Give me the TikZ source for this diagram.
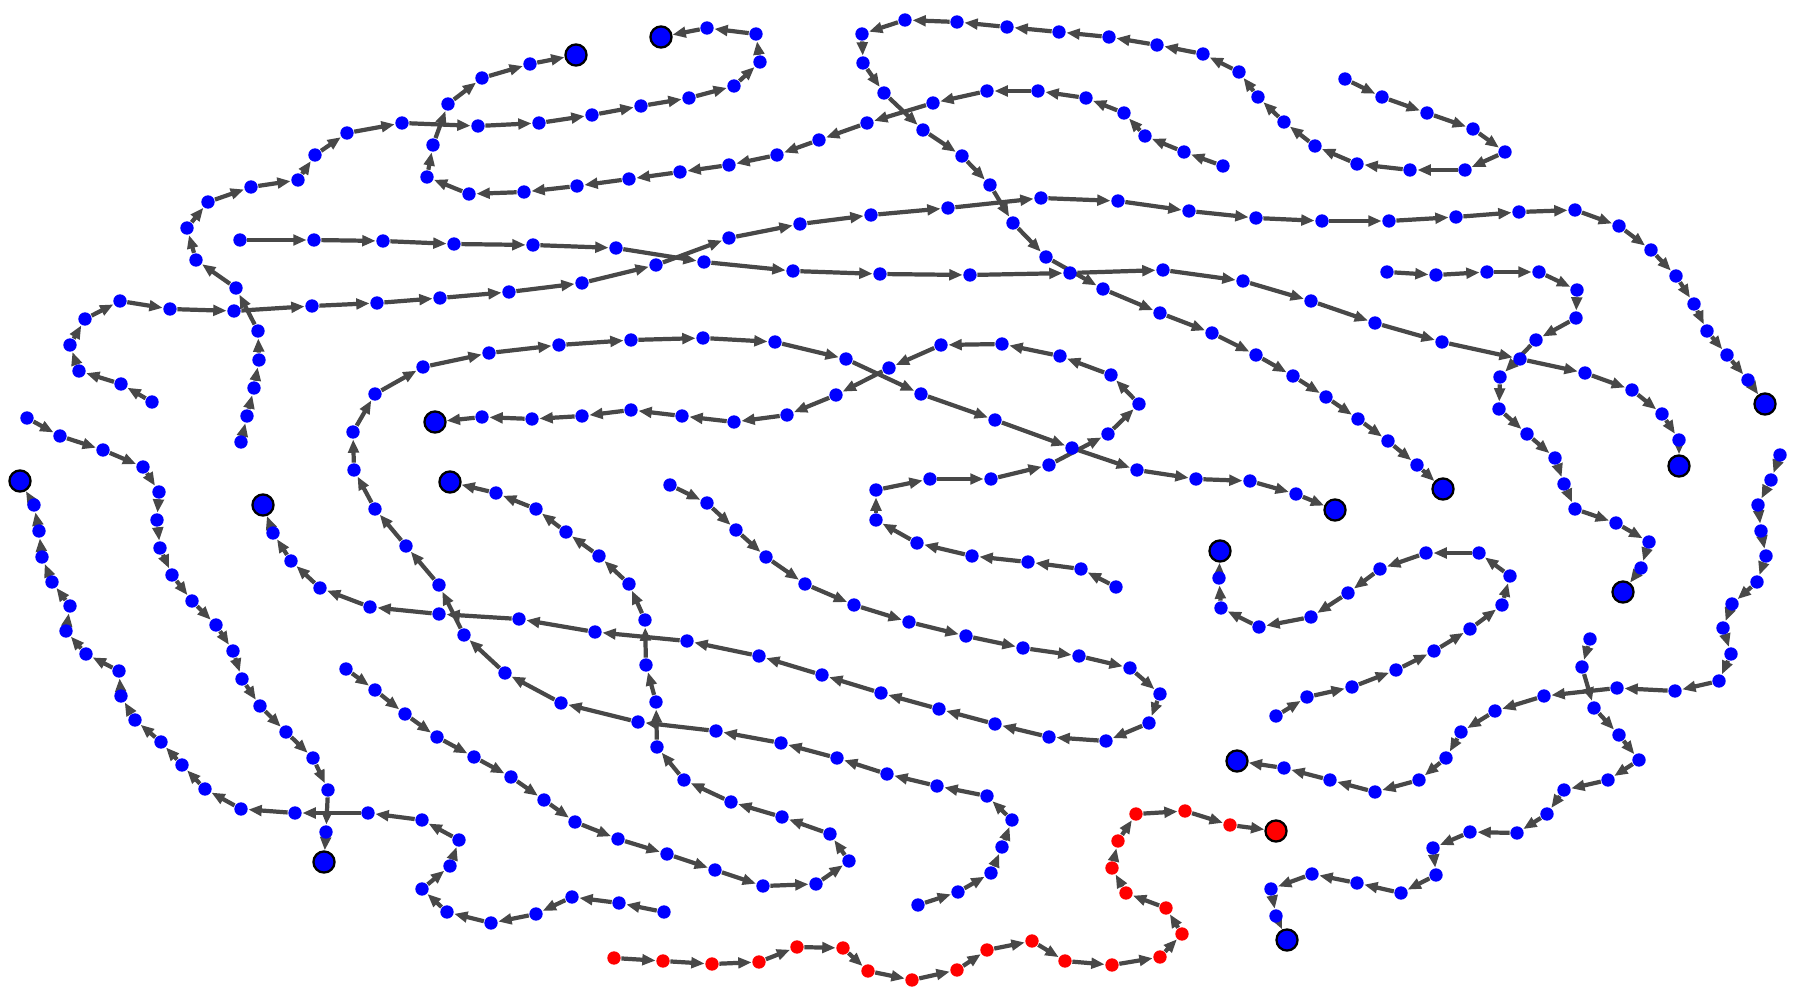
\documentclass[tikz,border=0pt]{standalone}
\usetikzlibrary{arrows.meta}
\definecolor{edgec}{RGB}{72,72,72}
\definecolor{nblue}{RGB}{0,0,255}
\definecolor{nred}{RGB}{255,0,0}
\tikzset{
  dot/.style={circle,inner sep=0pt,minimum size=3.8pt},
  bigdot/.style={circle,inner sep=0pt,minimum size=6pt,line width=0.65pt},
  edge/.style={draw=edgec,line width=1.2pt,-{Triangle[length=3.8pt,width=3pt]}},
}
% pass 1: invisible named nodes and the connectors between them
\newcommand\chainedges[3]{%
  \foreach \x/\y [count=\i] in #2 {
    \node[dot] (#1-\i) at (\x,\y) {};
    \ifnum\i>1
      \pgfmathtruncatemacro\prev{\i-1}
      \draw[edge] (#1-\prev) -- (#1-\i);
    \fi
    \xdef\lastidx{\i}
  }
  \node[bigdot] (#1-big) at (#3) {};
  \draw[edge] (#1-\lastidx) -- (#1-big);
}
% pass 2: the visible dots on top
\newcommand\chaindots[3]{%
  \foreach \x/\y [count=\i] in #3 {
    \node[dot,fill=#2] at (#1-\i.center) {};
  }
  \node[bigdot,fill=#2,draw=black] at (#1-big.center) {};
}
\def\LA{241/442, 247/416, 254/388, 259/360, 258/331, 236/288, 196/260, 187/228, 208/202, 251/187, 298/180, 315/155, 347/133, 402/123, 478/126, 539/123, 592/115, 641/106, 689/98, 734/86, 760/62, 756/34, 707/28}
\def\LB{1223/166, 1184/152, 1145/136, 1124/113, 1086/98, 1038/91, 987/91, 933/103, 867/123, 819/140, 777/155, 729/165, 680/172, 629/179, 577/186, 524/192, 469/194, 427/177, 433/145, 448/104, 482/78, 530/64}
\def\LC{1345/79, 1382/97, 1427/113, 1473/129, 1505/152, 1465/170, 1410/170, 1357/164, 1315/146, 1284/122, 1258/97, 1239/72, 1203/54, 1157/45, 1109/37, 1059/32, 1007/27, 957/22, 905/20, 862/34, 863/63, 884/93, 923/130, 962/156, 990/185, 1013/223, 1046/257, 1103/289, 1160/313, 1212/333, 1256/355, 1293/376, 1326/397, 1358/419, 1388/441, 1417/465}
\def\LD{152/402, 121/384, 79/371, 70/345, 85/319, 120/301, 170/309, 234/311, 312/306, 377/303, 440/298, 509/292, 582/283, 656/265, 729/238, 800/224, 871/215, 948/208, 1041/198, 1118/201, 1189/211, 1256/218, 1322/221, 1389/221, 1456/217, 1519/212, 1575/210, 1619/226, 1651/250, 1676/276, 1694/304, 1707/331, 1727/355, 1748/380}
\def\LE{240/240, 314/240, 383/241, 454/244, 533/245, 616/248, 704/262, 793/271, 880/274, 970/275, 1070/273, 1163/270, 1243/281, 1311/301, 1375/323, 1442/342, 1520/359, 1585/373, 1632/390, 1662/414, 1679/440}
\def\LF{1387/272, 1436/275, 1487/272, 1539/272, 1577/290, 1576/318, 1536/340, 1500/377, 1499/409, 1527/434, 1555/458, 1564/484, 1575/509, 1616/523, 1649/542, 1641/568}
\def\LG{1116/587, 1081/569, 1028/562, 972/556, 917/543, 876/520, 876/490, 930/479, 991/479, 1049/465, 1108/434, 1139/404, 1111/375, 1060/356, 1002/344, 941/345, 889/368, 836/395, 787/415, 734/422, 682/416, 631/410, 582/416, 532/419, 482/417}
\def\LH{918/905, 958/892, 991/873, 1002/847, 1012/820, 987/796, 937/786, 887/774, 837/758, 781/743, 716/731, 638/722, 561/703, 505/673, 464/635, 439/585, 406/546, 375/509, 354/470, 353/432, 375/394, 423/367, 489/353, 559/345, 631/340, 703/338, 775/342, 846/359, 921/394, 995/420, 1072/448, 1137/470, 1196/479, 1250/481, 1296/494}
\def\LI{670/485, 707/503, 736/530, 766/557, 805/584, 854/605, 909/622, 966/636, 1023/648, 1079/656, 1130/668, 1160/694, 1149/723, 1106/741, 1049/737, 995/724, 939/709, 881/693, 822/675, 759/656, 687/641, 595/632, 519/619, 439/614, 370/607, 320/588, 291/561, 273/533}
\def\LJ{664/912, 619/903, 572/897, 536/914, 491/923, 447/912, 422/889, 450/866, 459/840, 422/820, 368/813, 295/813, 241/809, 205/789, 182/765, 161/742, 135/720, 121/696, 119/671, 86/654, 66/631, 70/606, 52/582, 42/557, 39/531, 34/505}
\def\LK{27/418, 60/436, 103/450, 143/467, 159/492, 157/520, 160/548, 172/575, 192/601, 216/625, 233/651, 242/679, 260/706, 286/732, 313/758, 328/790, 326/832}
\def\LM{346/669, 375/690, 405/714, 437/737, 474/757, 511/777, 544/800, 575/822, 618/839, 667/854, 715/870, 763/886, 816/884, 849/861, 830/834, 782/817, 731/802, 684/780, 657/747, 656/702, 646/665, 645/620, 629/584, 599/556, 566/532, 536/509, 496/493}
\def\LN{1276/716, 1307/697, 1352/687, 1396/670, 1434/651, 1470/629, 1502/605, 1510/576, 1479/553, 1426/553, 1380/569, 1348/593, 1311/617, 1259/627, 1221/608, 1219/578}
\def\LO{1780/455, 1771/480, 1758/505, 1761/531, 1766/556, 1757/582, 1732/604, 1723/628, 1731/654, 1719/681, 1675/691, 1617/688, 1544/696, 1495/711, 1461/732, 1446/758, 1419/780, 1375/792, 1330/780, 1284/768}
\def\LP{1590/639, 1582/667, 1594/708, 1619/735, 1639/760, 1608/780, 1564/790, 1547/814, 1517/833, 1470/832, 1433/848, 1436/875, 1401/893, 1357/883, 1312/874, 1271/889, 1276/916}
\def\LR{614/958, 663/961, 712/964, 759/962, 797/947, 843/948, 868/971, 912/980, 957/970, 987/950, 1032/941, 1065/961, 1112/965, 1160/957, 1182/934, 1166/908, 1126/893, 1112/868, 1118/841, 1136/814, 1185/811, 1230/825}
\begin{document}
\begin{tikzpicture}[x=0.01cm,y=-0.01cm]
\useasboundingbox (0,0) rectangle (1800,1000);
\chainedges{A}{\LA}{661,37}
\chainedges{B}{\LB}{576,55}
\chainedges{C}{\LC}{1443,489}
\chainedges{D}{\LD}{1765,404}
\chainedges{E}{\LE}{1679,466}
\chainedges{F}{\LF}{1623,592}
\chainedges{G}{\LG}{435,422}
\chainedges{H}{\LH}{1335,510}
\chainedges{I}{\LI}{263,505}
\chainedges{J}{\LJ}{20,481}
\chainedges{K}{\LK}{324,862}
\chainedges{M}{\LM}{450,482}
\chainedges{N}{\LN}{1220,551}
\chainedges{O}{\LO}{1237,761}
\chainedges{P}{\LP}{1287,940}
\chainedges{R}{\LR}{1276,831}
\chaindots{A}{nblue}{\LA}
\chaindots{B}{nblue}{\LB}
\chaindots{C}{nblue}{\LC}
\chaindots{D}{nblue}{\LD}
\chaindots{E}{nblue}{\LE}
\chaindots{F}{nblue}{\LF}
\chaindots{G}{nblue}{\LG}
\chaindots{H}{nblue}{\LH}
\chaindots{I}{nblue}{\LI}
\chaindots{J}{nblue}{\LJ}
\chaindots{K}{nblue}{\LK}
\chaindots{M}{nblue}{\LM}
\chaindots{N}{nblue}{\LN}
\chaindots{O}{nblue}{\LO}
\chaindots{P}{nblue}{\LP}
\chaindots{R}{nred}{\LR}
\end{tikzpicture}
\end{document}
